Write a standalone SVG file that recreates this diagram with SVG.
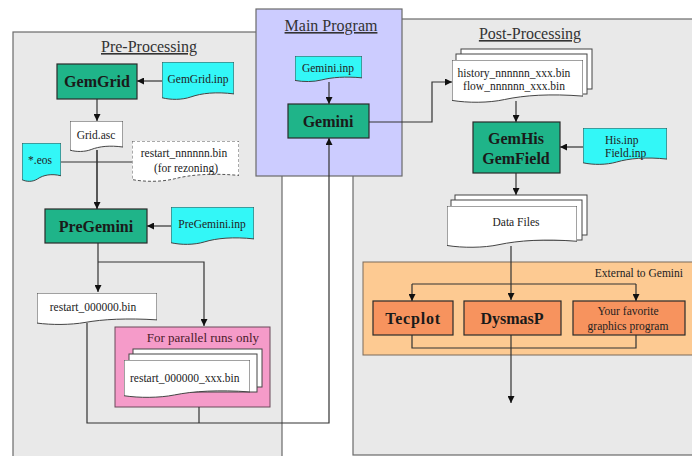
<svg xmlns="http://www.w3.org/2000/svg" xmlns:xlink="http://www.w3.org/1999/xlink" width="692" height="456" viewBox="0 0 692 456">
<defs>
<style>
.panel{fill:#e9e9e9;stroke:#6a6a6a;stroke-width:1.2}
.title{font-family:"Liberation Serif",serif;font-size:16px;fill:#333;text-anchor:middle;text-decoration:underline}
.prog{stroke:#2a2a2a;stroke-width:1.2}
.green{fill:#1fb489}
.orange{fill:#f7935e}
.big{font-family:"Liberation Serif",serif;font-size:16px;font-weight:bold;fill:#1a1a1a;text-anchor:middle}
.small{font-family:"Liberation Serif",serif;font-size:11.5px;fill:#222;text-anchor:middle}
.sm{font-family:"Liberation Serif",serif;font-size:11.5px;fill:#222}
.conn path,.conn line{fill:none;stroke:#333;stroke-width:1.2}
.arr{marker-end:url(#ah)}
</style>
<marker id="ah" viewBox="0 0 10 10" refX="10" refY="5" markerWidth="7" markerHeight="7" markerUnits="userSpaceOnUse" orient="auto">
<path d="M0,0 L10,5 L0,10 Z" fill="#111"/>
</marker>
<symbol id="doc" viewBox="0 0 100 100" preserveAspectRatio="none">
<path vector-effect="non-scaling-stroke" d="M0,0 H100 V84 C75,78 55,82 40,92 C28,100 12,100 0,94 Z"/>
</symbol>
</defs>

<g id="panels">
<rect id="pre-panel" class="panel" x="13" y="32" width="269" height="440"/>
<rect id="post-panel" class="panel" x="353" y="19" width="345" height="436"/>
<rect id="main-panel" x="256" y="9" width="146" height="167" fill="#ccccff" stroke="#6a6a6a" stroke-width="1.2"/>
<text class="title" x="149" y="52">Pre-Processing</text>
<text class="title" x="331" y="31">Main Program</text>
<text class="title" x="530" y="39">Post-Processing</text>
</g>

<g id="external">
<rect x="363" y="262" width="335" height="93" fill="#fdca92" stroke="#7a6a5a" stroke-width="1"/>
<text class="sm" x="683" y="277" text-anchor="end" font-size="13.5">External to Gemini</text>
</g>

<g id="pink">
<rect x="115" y="327" width="155" height="80" fill="#f59bc9" stroke="#6a4a5a" stroke-width="1"/>
<text x="259" y="342" text-anchor="end" font-family="Liberation Serif, serif" font-size="13" fill="#4a1a2a">For parallel runs only</text>
</g>

<g class="conn">
<line class="arr" x1="162" y1="81" x2="137" y2="81"/>
<line class="arr" x1="97" y1="99" x2="97" y2="121"/>
<line x1="61" y1="162" x2="132" y2="162"/>
<line class="arr" x1="97" y1="150" x2="97" y2="209" style="stroke-width:1.6"/>
<line class="arr" x1="171" y1="226" x2="147" y2="226"/>
<line class="arr" x1="98" y1="243" x2="98" y2="292"/>
<path class="arr" d="M98,262 H204 V326"/>
<path class="arr" d="M87,323 V423 H329 V138"/>
<line x1="199" y1="407" x2="199" y2="423"/>
<line class="arr" x1="329" y1="82" x2="329" y2="104"/>
<path class="arr" d="M369,122 H432 V82 H452"/>
<line class="arr" x1="516" y1="101" x2="516" y2="122"/>
<line class="arr" x1="583" y1="147" x2="560" y2="147"/>
<line class="arr" x1="516" y1="173" x2="516" y2="195"/>
<line class="arr" x1="511" y1="246" x2="511" y2="300"/>
<line x1="412" y1="284" x2="636" y2="284"/>
<line class="arr" x1="412" y1="284" x2="412" y2="301"/>
<line class="arr" x1="636" y1="284" x2="636" y2="301"/>
<path d="M412,335 V348 H636 V335"/>
<line class="arr" x1="511" y1="335" x2="511" y2="403"/>
</g>

<g id="gemgrid">
<rect class="green prog" x="57" y="64" width="80" height="35"/>
<text class="big" x="97" y="87">GemGrid</text>
</g>
<g id="gemgrid-inp">
<use href="#doc" x="162" y="62" width="72" height="38" fill="#33f7f7" stroke="#444"/>
<text class="small" x="198" y="83" fill="#1a3a6a" font-size="12">GemGrid.inp</text>
</g>
<g id="grid-asc">
<use href="#doc" x="70" y="121" width="53" height="31" fill="#ffffff" stroke="#444"/>
<text class="small" x="96" y="139" font-size="12">Grid.asc</text>
</g>
<g id="eos">
<use href="#doc" x="22" y="143" width="39" height="39" fill="#33f7f7" stroke="#444"/>
<text class="small" x="40" y="164" fill="#1a3a6a">*.eos</text>
</g>
<g id="restart-rezoning">
<use href="#doc" x="132" y="141" width="107" height="41" fill="#ffffff" stroke="#555" stroke-dasharray="3,2"/>
<text class="small" x="184" y="157">restart_nnnnnn.bin</text>
<text class="small" x="186" y="172">(for rezoning)</text>
</g>
<g id="pregemini">
<rect class="green prog" x="45" y="209" width="102" height="34"/>
<text class="big" x="96" y="232">PreGemini</text>
</g>
<g id="pregemini-inp">
<use href="#doc" x="171" y="207" width="83" height="38" fill="#33f7f7" stroke="#444"/>
<text class="small" x="212" y="228" fill="#1a3a6a" font-size="12">PreGemini.inp</text>
</g>
<g id="restart-000000">
<use href="#doc" x="37" y="293" width="120" height="32" fill="#ffffff" stroke="#444"/>
<text class="small" x="93" y="311">restart_000000.bin</text>
</g>
<g id="restart-xxx">
<rect x="133" y="349" width="129" height="38" fill="#ffffff" stroke="#444" stroke-width="1"/>
<rect x="129" y="354" width="128" height="38" fill="#ffffff" stroke="#444" stroke-width="1"/>
<use href="#doc" x="124" y="360" width="126" height="38" fill="#ffffff" stroke="#444"/>
<text class="sm" x="130" y="382">restart_000000_xxx.bin</text>
</g>
<g id="gemini-inp">
<use href="#doc" x="295" y="56" width="67" height="26" fill="#33f7f7" stroke="#444"/>
<text class="small" x="328" y="72" fill="#1a3a6a" font-size="12">Gemini.inp</text>
</g>
<g id="gemini">
<rect class="green prog" x="288" y="104" width="81" height="34"/>
<text class="big" x="328" y="127">Gemini</text>
</g>
<g id="history">
<rect x="461" y="49" width="131" height="40" fill="#ffffff" stroke="#444" stroke-width="1"/>
<rect x="456" y="54" width="131" height="40" fill="#ffffff" stroke="#444" stroke-width="1"/>
<use href="#doc" x="452" y="60" width="131" height="43" fill="#ffffff" stroke="#444"/>
<text class="small" x="514" y="77">history_nnnnnn_xxx.bin</text>
<text class="small" x="514" y="90">flow_nnnnnn_xxx.bin</text>
</g>
<g id="gemhis">
<rect class="green prog" x="473" y="122" width="87" height="51"/>
<text class="big" x="516" y="144">GemHis</text>
<text class="big" x="516" y="164">GemField</text>
</g>
<g id="his-inp">
<use href="#doc" x="583" y="128" width="84" height="37" fill="#33f7f7" stroke="#444"/>
<text class="sm" x="605" y="144" fill="#1a3a6a">His.inp</text>
<text class="sm" x="605" y="157" fill="#1a3a6a">Field.inp</text>
</g>
<g id="data-files">
<rect x="455" y="195" width="132" height="40" fill="#ffffff" stroke="#444" stroke-width="1"/>
<rect x="451" y="200" width="131" height="40" fill="#ffffff" stroke="#444" stroke-width="1"/>
<use href="#doc" x="447" y="206" width="130" height="42" fill="#ffffff" stroke="#444"/>
<text class="small" x="516" y="226" font-size="12">Data Files</text>
</g>
<g id="tecplot">
<rect class="orange prog" x="373" y="301" width="80" height="34"/>
<text class="big" x="413" y="324" letter-spacing="0.8">Tecplot</text>
</g>
<g id="dysmasp">
<rect class="orange prog" x="464" y="301" width="97" height="34"/>
<text class="big" x="512" y="324">DysmasP</text>
</g>
<g id="favorite">
<rect class="orange prog" x="573" y="301" width="112" height="34"/>
<text class="small" x="628" y="315" font-size="13">Your favorite</text>
<text class="small" x="628" y="330" font-size="13">graphics program</text>
</g>
</svg>
